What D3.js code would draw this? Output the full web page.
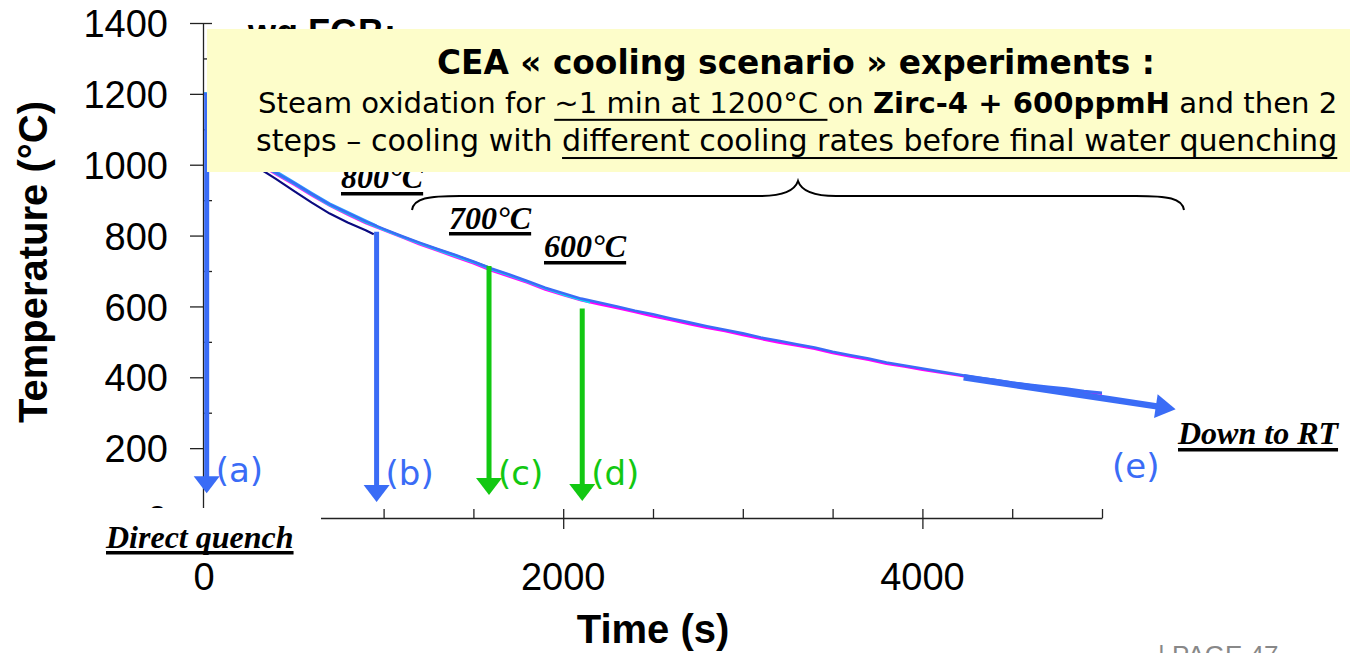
<!DOCTYPE html>
<html>
<head>
<meta charset="utf-8">
<script src="https://cdnjs.cloudflare.com/ajax/libs/d3/7.8.5/d3.min.js"></script>
<style>
  body { margin: 0; background: #fff; }
  svg { display: block; }
  text { white-space: pre; }
</style>
</head>
<body>
<svg id="chart" width="1354" height="653"></svg>
<script>
// ---- Cooling curves: time (s) and temperature (°C) ----
const timeLong = [0, 60, 100, 200, 300, 400, 500, 600, 700, 800, 900, 1000, 1100, 1200, 1300, 1400, 1500,
  1600, 1700, 1800, 1900, 2000, 2100, 2200, 2300, 2400, 2500, 2600, 2700, 2800, 2900, 3000, 3100, 3200,
  3300, 3400, 3500, 3600, 3700, 3800, 3900, 4000, 4100, 4200, 4300, 4400, 4500, 4600, 4700, 4800, 4900, 5000];
const tempBlue = [1200, 1199, 1148, 1056, 1008, 978, 949, 918, 888, 864, 840, 819, 799, 780, 762, 745, 727,
  707, 690, 672, 653, 637, 622, 611, 600, 588, 578, 566, 555, 544, 534, 524, 512, 503,
  493, 484, 472, 462, 453, 442, 433, 425, 416, 408, 399, 393, 385, 379, 373, 368, 361, 356];
const tempMagenta = [1200, 1198, 1140, 1050, 1003, 973, 944, 913, 884, 859, 835, 815, 795, 775, 757, 739, 721,
  701, 684, 667, 647, 632, 617, 606, 595, 584, 572, 561, 550, 539, 530, 519, 508, 498,
  489, 480, 468, 458, 449, 438, 430, 421, 413, 405, 397, 390, 383, 377, 371, 365, 359, 353];

const timeCyan = [0, 60, 100, 200, 300, 400, 500, 600, 700, 800, 900, 1000, 1100, 1200, 1300, 1400, 1500,
  1600, 1700, 1800, 1900, 2000, 2100, 2150];
const tempCyan = [1200, 1199, 1145, 1054, 1006, 976, 947, 916, 886, 862, 838, 817, 797, 778, 760, 742, 725,
  705, 688, 670, 651, 634, 619, 612];

const timeGreen = [0, 60, 100, 200, 300, 400, 500, 600, 700, 800, 900, 1000, 1100, 1200, 1300, 1400, 1500, 1590];
const tempGreen = [1200, 1199, 1150, 1058, 1010, 979, 948, 917, 887, 862, 838, 818, 798, 779, 761, 744, 726, 710];

const timeNavy = [0, 60, 100, 200, 300, 400, 500, 600, 700, 800, 900, 945];
const tempNavy = [1200, 1198, 1135, 1040, 992, 960, 926, 893, 862, 837, 815, 804];

const timeSky = [0, 60, 100, 200, 300, 400, 500, 600, 700, 800, 900, 960];
const tempSky = [1200, 1199, 1152, 1060, 1012, 981, 951, 920, 890, 866, 842, 828];

// ---- Final water quench steps (vertical drops) ----
const dropLabel = ["(a)", "(b)", "(c)", "(d)"];
const dropTime = [15, 961, 1587, 2106];
const dropFromTemp = [1200, 811, 714, 594];
const dropToTemp = [73, 48, 68, 51];
const dropColor = ["#3a6cf6", "#3a6cf6", "#12c812", "#12c812"];

// Slow cooling down to room temperature
const slowLabel = "(e)";
const slowFrom = [4230, 400];
const slowTo = [5410, 310];

// ---- Axis ticks ----
const yMajor = [0, 200, 400, 600, 800, 1000, 1200, 1400];
const yMajorLabels = ["0", "200", "400", "600", "800", "1000", "1200", "1400"];
const yMinor = [100, 300, 500, 700, 900, 1100, 1300, 1400];
const xMajor = [0, 2000, 4000];
const xMajorLabels = ["0", "2000", "4000"];
const xMinor = [500, 1000, 1500, 2000, 2500, 3000, 3500, 4000, 4500, 5000];

// Step temperatures annotated above the curves
const stepLabels = ["800°C", "700°C", "600°C"];

const svg = d3.select("#chart");
const x = d3.scaleLinear().domain([0, 5000]).range([204, 1102]);
const y = d3.scaleLinear().domain([0, 1400]).range([519, 23]);

const AX_FONT = "'Liberation Sans', Arial, sans-serif";
const SERIF = "'Liberation Serif', 'Times New Roman', serif";
const COMIC = "'Comic Sans MS', 'DejaVu Sans', sans-serif";

// ---- Y axis ----
const gy = svg.append("g").attr("transform", "translate(203,0)");
gy.call(d3.axisLeft(y).tickValues(yMajor).tickSize(13).tickSizeOuter(0).tickPadding(22)
  .tickFormat((d, i) => yMajorLabels[i]));
gy.append("g").call(d3.axisRight(y).tickValues(yMinor).tickSize(9).tickSizeOuter(0).tickFormat(""))
  .select(".domain").remove();
gy.selectAll("text").attr("font-family", AX_FONT).attr("font-size", 38).attr("fill", "#000").attr("dy", "0.36em");
gy.selectAll("line,path").attr("stroke", "#222").attr("stroke-width", 1.3);

// ---- X axis ----
const gx = svg.append("g").attr("transform", "translate(0,518)");
gx.call(d3.axisBottom(x).tickValues(xMajor).tickSize(11).tickSizeOuter(0).tickFormat(""));
gx.append("g").call(d3.axisTop(x).tickValues(xMinor).tickSize(9).tickSizeOuter(0).tickFormat(""))
  .select(".domain").remove();
gx.selectAll("line,path").attr("stroke", "#222").attr("stroke-width", 1.3);
gx.selectAll(".xlab").data(xMajor).enter().append("text")
  .attr("x", d => x(d)).attr("y", 72).attr("text-anchor", "middle")
  .attr("font-family", AX_FONT).attr("font-size", 38).attr("fill", "#000")
  .text((d, i) => xMajorLabels[i]);

// Axis titles
svg.append("text").attr("transform", "translate(47,262) rotate(-90)")
  .attr("text-anchor", "middle").attr("font-family", AX_FONT).attr("font-weight", "bold")
  .attr("font-size", 40).text("Temperature (°C)");
svg.append("text").attr("x", 653).attr("y", 643).attr("text-anchor", "middle")
  .attr("font-family", AX_FONT).attr("font-weight", "bold").attr("font-size", 40).text("Time (s)");

// ---- Cooling curves ----
const line = d3.line().x(d => x(d[0])).y(d => y(d[1]));
const curves = [
  { t: timeNavy, v: tempNavy, c: "#0a0a80", w: 2.2 },
  { t: timeLong, v: tempMagenta, c: "#ff00ff", w: 2.2 },
  { t: timeGreen, v: tempGreen, c: "#1ed21e", w: 2.2 },
  { t: timeCyan, v: tempCyan, c: "#00e8f0", w: 2.6 },
  { t: timeSky, v: tempSky, c: "#2fa8ff", w: 2.6 },
  { t: timeLong, v: tempBlue, c: "#3a6cf6", w: 2.6 }
];
svg.append("g").selectAll("path").data(curves).enter().append("path")
  .attr("d", s => line(s.t.map((tt, i) => [tt, s.v[i]])))
  .attr("fill", "none").attr("stroke", s => s.c).attr("stroke-width", s => s.w)
  .attr("stroke-linejoin", "round");

// ---- Arrows ----
function arrow(g, x1, y1, x2, y2, color, w, headW, headL) {
  const dx = x2 - x1, dy = y2 - y1, len = Math.hypot(dx, dy);
  const ux = dx / len, uy = dy / len;
  const bx = x2 - ux * headL, by = y2 - uy * headL;
  g.append("line").attr("x1", x1).attr("y1", y1).attr("x2", bx + ux * 1).attr("y2", by + uy * 1)
    .attr("stroke", color).attr("stroke-width", w);
  const px = -uy * headW / 2, py = ux * headW / 2;
  g.append("path").attr("d", `M${x2},${y2}L${bx + px},${by + py}L${bx - px},${by - py}Z`).attr("fill", color);
}
const ga = svg.append("g");
dropTime.forEach((t, i) => {
  arrow(ga, x(t), y(dropFromTemp[i]), x(t), y(dropToTemp[i]), dropColor[i], 5, 26, 17);
  ga.append("text").attr("x", x(t) + 9).attr("y", i === 0 ? 482 : 485)
    .attr("font-family", COMIC).attr("font-size", 34).attr("fill", dropColor[i]).text(dropLabel[i]);
});
arrow(ga, x(slowFrom[0]), y(slowFrom[1]), x(slowTo[0]), y(slowTo[1]), "#3a6cf6", 6.5, 24, 20);
ga.append("text").attr("x", 1112).attr("y", 478).attr("font-family", COMIC)
  .attr("font-size", 34).attr("fill", "#3a6cf6").text(slowLabel);

// Mask under the lower-left corner of the axes
svg.append("rect").attr("x", 0).attr("y", 508).attr("width", 321).attr("height", 54).attr("fill", "#fff");

// ---- Serif annotations ----
function serifLabel(txt, x0, base, ulY) {
  const t = svg.append("text").attr("x", x0).attr("y", base).attr("font-family", SERIF)
    .attr("font-weight", "bold").attr("font-style", "italic").attr("font-size", 32).text(txt);
  const w = t.node().getComputedTextLength();
  svg.append("rect").attr("x", x0).attr("y", ulY).attr("width", w).attr("height", 3.5).attr("fill", "#000");
}
serifLabel(stepLabels[0], 341, 188, 192);
serifLabel(stepLabels[1], 449, 229, 232);
serifLabel(stepLabels[2], 544, 257, 261);
serifLabel("Direct quench", 106, 548, 551);
serifLabel("Down to RT", 1178, 444, 448);

// Heading partly hidden behind the note box
svg.append("text").attr("x", 248).attr("y", 45).attr("font-family", AX_FONT).attr("font-weight", "bold")
  .attr("font-size", 36).text("wg FGB:");

// ---- Note box ----
svg.append("rect").attr("x", 207).attr("y", 29).attr("width", 1143).attr("height", 143).attr("fill", "#fdfdca");

function richLine(segs, x0, base, targetW, size0) {
  const g = svg.append("g");
  function render(size) {
    g.selectAll("*").remove();
    let cx = x0;
    segs.forEach(s => {
      const t = g.append("text").attr("x", cx).attr("y", base).attr("font-family", COMIC)
        .attr("font-size", size).attr("font-weight", s.b ? "bold" : "normal").attr("fill", "#000").text(s.t);
      const w = t.node().getComputedTextLength();
      if (s.u) g.append("rect").attr("x", cx).attr("y", base + size * 0.2).attr("width", w)
        .attr("height", 2).attr("fill", "#000");
      cx += w;
    });
    return cx - x0;
  }
  const w0 = render(size0);
  render(size0 * targetW / w0);
}
richLine([{ t: "CEA « cooling scenario » experiments :", b: true }], 437, 74, 718, 29);
richLine([
  { t: "Steam oxidation for " },
  { t: "~1 min at 1200°C ", u: true },
  { t: "on " },
  { t: "Zirc-4 + 600ppmH", b: true },
  { t: " and then 2" }
], 258, 113, 1080, 25);
richLine([
  { t: "steps – cooling with " },
  { t: "different cooling rates before final water quenching", u: true }
], 256, 151, 1082, 25);

// ---- Brace grouping the step temperatures ----
svg.append("path")
  .attr("d", "M412,210 C414,198 428,196 460,196 L760,196 C785,196 795,190 798,181 " +
    "C801,190 811,196 836,196 L1136,196 C1168,196 1182,198 1184,210")
  .attr("fill", "none").attr("stroke", "#000").attr("stroke-width", 2);

// Page footer
svg.append("text").attr("x", 1158).attr("y", 664).attr("font-family", AX_FONT)
  .attr("font-size", 26).attr("fill", "#888").text("| PAGE 47");
</script>
</body>
</html>
